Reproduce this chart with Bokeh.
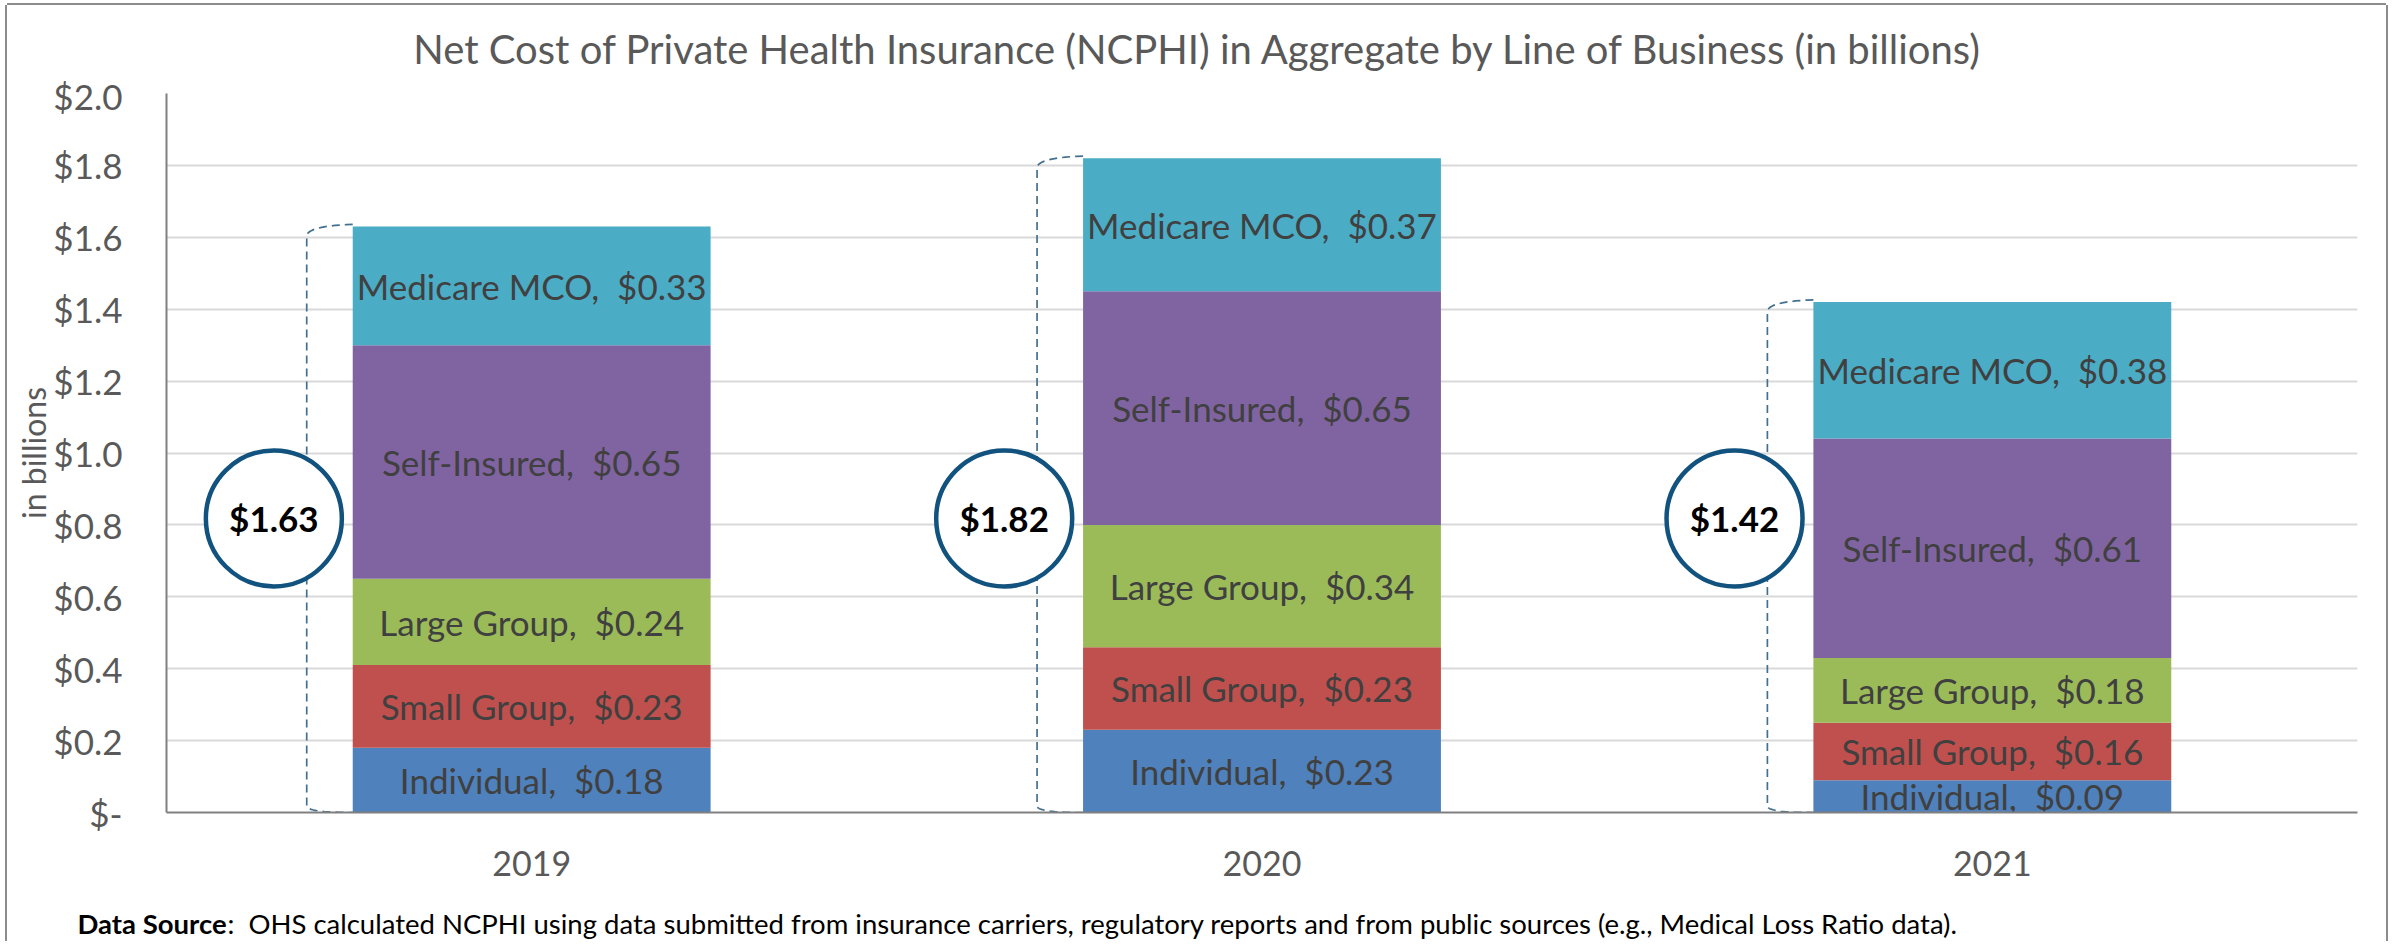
import numpy as np
from bokeh.plotting import figure
from bokeh.layouts import column
from bokeh.models import FixedTicker, CustomJSTickFormatter, Range1d
from bokeh.core.properties import value
from bokeh.embed import file_html
from bokeh.resources import INLINE

# ---------------- data ----------------
years = ["2019", "2020", "2021"]
lines_of_business = ["Individual", "Small Group", "Large Group", "Self-Insured", "Medicare MCO"]
individual = [0.18, 0.23, 0.09]
small_group = [0.23, 0.23, 0.16]
large_group = [0.24, 0.34, 0.18]
self_insured = [0.65, 0.65, 0.61]
medicare_mco = [0.33, 0.37, 0.38]
y_ticks = [0.0, 0.2, 0.4, 0.6, 0.8, 1.0, 1.2, 1.4, 1.6, 1.8, 2.0]

title_text = "Net Cost of Private Health Insurance (NCPHI) in Aggregate by Line of Business (in billions)"
y_axis_title = "in billions"
source_bold = "Data Source"
source_rest = (":\u00a0 OHS calculated NCPHI using data submitted from insurance carriers, "
               "regulatory reports and from public sources (e.g., Medical Loss Ratio data).")

# ---------------- style / layout ----------------
FONT = "Lato"
colors = ["#4F81BD", "#C0504D", "#9BBB59", "#8064A2", "#4BACC6"]
AXIS_GRAY = "#808080"
TEXT_GRAY = "#595959"
LABEL_GRAY = "#404040"
CIRCLE_BLUE = "#11527F"
BRACKET_BLUE = "#44708F"
BAR_W = 0.49
BRACKET_OFFSET = 0.308
CIRCLE_OFFSET = 0.353
CIRCLE_Y = 0.818

W = 2379          # total width
H_TITLE = 69      # title strip
H_MAIN = 821      # chart
H_FOOT = 46       # footnote strip
TITLE_POS = (1191, 26)
FOOT_BOLD_X = 70
FOOT_REST_X = 220
FOOT_Y = 18


def text_strip(height):
    f = figure(width=W, height=height, x_range=Range1d(0, W), y_range=Range1d(0, height),
               x_axis_type=None, y_axis_type=None, toolbar_location=None,
               output_backend="svg", min_border=0, frame_align=False)
    f.outline_line_color = None
    f.background_fill_color = "white"
    f.border_fill_color = "white"
    return f


# ---- title strip ----
pt = text_strip(H_TITLE)
pt.text(x=[TITLE_POS[0]], y=[TITLE_POS[1]], text=[title_text], text_font=value(FONT),
        text_font_size="40px", text_color=TEXT_GRAY, text_align="center", text_baseline="middle")

# ---- main chart ----
series = [individual, small_group, large_group, self_insured, medicare_mco]
xc = np.arange(len(years)) + 0.5

p = figure(width=W, height=H_MAIN,
           x_range=Range1d(0, len(years)), y_range=Range1d(0, 2.0),
           output_backend="svg", toolbar_location=None, frame_align=False,
           min_border_left=159, min_border_right=29,
           min_border_top=19, min_border_bottom=83)
p.outline_line_color = None
p.background_fill_color = "white"
p.border_fill_color = "white"

p.xgrid.visible = False
p.ygrid.ticker = FixedTicker(ticks=y_ticks)
p.ygrid.grid_line_color = "#D9D9D9"
p.ygrid.grid_line_width = 2

ya = p.yaxis[0]
ya.ticker = FixedTicker(ticks=y_ticks)
ya.formatter = CustomJSTickFormatter(code="return tick == 0 ? '$-' : '$' + tick.toFixed(1);")
ya.major_label_text_font = FONT
ya.major_label_text_font_size = "35px"
ya.major_label_text_color = TEXT_GRAY
ya.major_label_standoff = 44
ya.major_tick_out = 0
ya.major_tick_in = 0
ya.minor_tick_out = 0
ya.minor_tick_in = 0
ya.axis_line_color = AXIS_GRAY
ya.axis_line_width = 2
ya.axis_label = y_axis_title
ya.axis_label_text_font = FONT
ya.axis_label_text_font_size = "32px"
ya.axis_label_text_font_style = "normal"
ya.axis_label_text_color = TEXT_GRAY
ya.axis_label_standoff = -3

xa = p.xaxis[0]
xa.ticker = FixedTicker(ticks=list(xc))
xa.formatter = CustomJSTickFormatter(args=dict(years=years), code="return years[Math.floor(tick)];")
xa.major_label_text_font = FONT
xa.major_label_text_font_size = "34px"
xa.major_label_text_color = TEXT_GRAY
xa.major_label_standoff = 38
xa.major_tick_out = 0
xa.major_tick_in = 0
xa.minor_tick_out = 0
xa.minor_tick_in = 0
xa.axis_line_color = AXIS_GRAY
xa.axis_line_width = 2

bottom = np.zeros(len(years))
lx, ly, lt = [], [], []
for name, vals, col in zip(lines_of_business, series, colors):
    v = np.array(vals)
    top = bottom + v
    p.vbar(x=xc, bottom=bottom, top=top, width=BAR_W, fill_color=col, line_color=None)
    for i in range(len(years)):
        lx.append(xc[i])
        ly.append((bottom[i] + top[i]) / 2)
        lt.append(f"{name},\u00a0 ${vals[i]:.2f}")
    bottom = top
totals = bottom

p.text(x=lx, y=ly, text=lt, text_font=value(FONT), text_font_size="35px",
       text_color=LABEL_GRAY, text_align="center", text_baseline="middle")


def quad(p0, p1, p2, n=14):
    t = np.linspace(0, 1, n)[:, None]
    return (1 - t) ** 2 * p0 + 2 * (1 - t) * t * p1 + t ** 2 * p2


bx, by = [], []
for i in range(len(years)):
    xl = xc[i] - BAR_W / 2
    xb = xc[i] - BRACKET_OFFSET
    yt = totals[i] + 0.006
    top_c = quad(np.array([xl, yt]), np.array([xb + 0.004, yt - 0.004]), np.array([xb, yt - 0.03]))
    bot_c = quad(np.array([xb, 0.018]), np.array([xb, 0.0]), np.array([xl, 0.0]))
    pts = np.vstack([top_c, bot_c])
    bx.append(list(pts[:, 0]))
    by.append(list(pts[:, 1]))
p.multi_line(bx, by, line_color=BRACKET_BLUE, line_width=1.7, line_dash="8 5")

cx = xc - CIRCLE_OFFSET
cy = [CIRCLE_Y] * len(years)
p.scatter(x=cx, y=cy, size=136, marker="circle", fill_color="white",
          line_color=CIRCLE_BLUE, line_width=4.5)
p.text(x=cx, y=cy, text=[f"${t:.2f}" for t in totals], text_font=value(FONT),
       text_font_size="35px", text_font_style="bold", text_color="black",
       text_align="center", text_baseline="middle")

# ---- footnote strip ----
pf = text_strip(H_FOOT)
pf.text(x=[FOOT_BOLD_X], y=[FOOT_Y], text=[source_bold], text_font=value(FONT),
        text_font_size="27.5px", text_font_style="bold", text_color="black",
        text_align="left", text_baseline="middle")
pf.text(x=[FOOT_REST_X], y=[FOOT_Y], text=[source_rest], text_font=value(FONT),
        text_font_size="27.5px", text_color="black", text_align="left", text_baseline="middle")

layout = column(pt, p, pf, spacing=0)
layout.styles = {
    "margin": "5px 0 0 7px",
    "box-shadow": "-2px 0 0 0 #8C8C8C, 2px 0 0 0 #8C8C8C, 0 -2px 0 0 #8C8C8C",
}

open("out.html", "w").write(file_html(layout, INLINE))
